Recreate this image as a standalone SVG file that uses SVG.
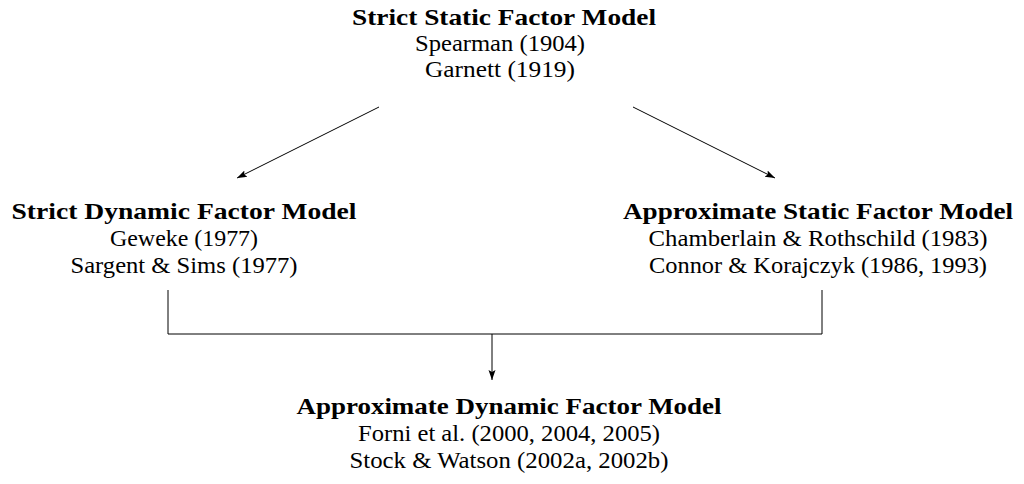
<svg xmlns="http://www.w3.org/2000/svg" width="1024" height="484" viewBox="0 0 1024 484">
<style>
text{font-family:"Liberation Serif","DejaVu Serif",serif;font-size:23px;fill:#000;text-anchor:middle}
.b{font-weight:bold}
.c{fill:none;stroke:#000;stroke-width:1}
</style>
<defs>
<marker id="ah" viewBox="0 0 10 10" refX="10" refY="5" markerWidth="10" markerHeight="10" markerUnits="userSpaceOnUse" orient="auto">
<path d="M0,1.5 L10,5 L0,8.5 L2,5 Z" fill="#000"/>
</marker>
</defs>
<rect width="1024" height="484" fill="#fff"/>
<g id="top">
<text class="b" x="504" y="25" textLength="304" lengthAdjust="spacingAndGlyphs">Strict Static Factor Model</text>
<text x="500" y="51" textLength="170" lengthAdjust="spacingAndGlyphs">Spearman (1904)</text>
<text x="500" y="77" textLength="150" lengthAdjust="spacingAndGlyphs">Garnett (1919)</text>
</g>
<g id="left">
<text class="b" x="184" y="219" textLength="345" lengthAdjust="spacingAndGlyphs">Strict Dynamic Factor Model</text>
<text x="184" y="246" textLength="148" lengthAdjust="spacingAndGlyphs">Geweke (1977)</text>
<text x="184" y="273" textLength="227" lengthAdjust="spacingAndGlyphs">Sargent &amp; Sims (1977)</text>
</g>
<g id="right">
<text class="b" x="818" y="219" textLength="390" lengthAdjust="spacingAndGlyphs">Approximate Static Factor Model</text>
<text x="818" y="246" textLength="339" lengthAdjust="spacingAndGlyphs">Chamberlain &amp; Rothschild (1983)</text>
<text x="818" y="273" textLength="338" lengthAdjust="spacingAndGlyphs">Connor &amp; Korajczyk (1986, 1993)</text>
</g>
<g id="bottom">
<text class="b" x="509" y="414" textLength="425" lengthAdjust="spacingAndGlyphs">Approximate Dynamic Factor Model</text>
<text x="509" y="441" textLength="302" lengthAdjust="spacingAndGlyphs">Forni et al. (2000, 2004, 2005)</text>
<text x="509" y="468" textLength="319" lengthAdjust="spacingAndGlyphs">Stock &amp; Watson (2002a, 2002b)</text>
</g>
<g id="connectors">
<line class="c" x1="379" y1="107" x2="237" y2="178" marker-end="url(#ah)"/>
<line class="c" x1="633" y1="107" x2="775" y2="178" marker-end="url(#ah)"/>
<polyline class="c" points="168,290 168,334 822,334 822,290"/>
<line class="c" x1="492" y1="334" x2="492" y2="380" marker-end="url(#ah)"/>
</g>
</svg>
